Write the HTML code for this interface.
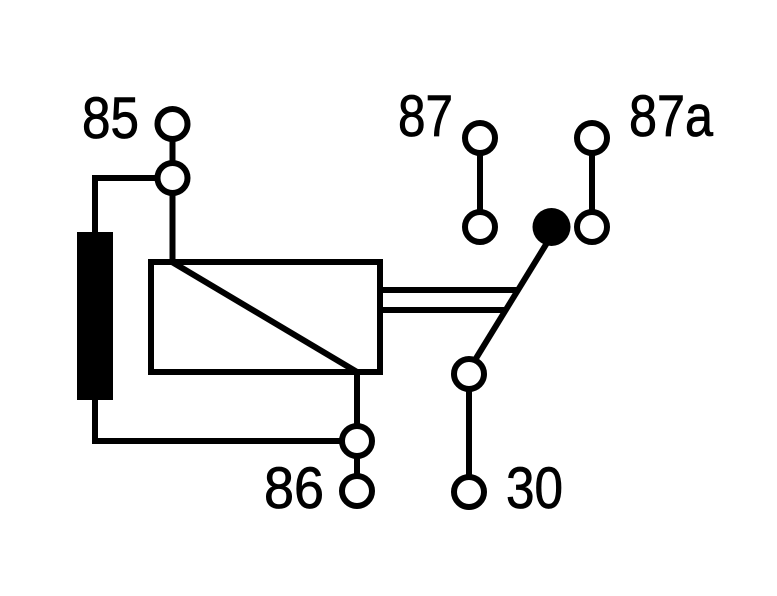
<!DOCTYPE html>
<html><head><meta charset="utf-8"><style>
html,body{margin:0;padding:0;background:#fff;}
svg{display:block;}
</style></head><body>
<svg width="777" height="596" viewBox="0 0 777 596" xmlns="http://www.w3.org/2000/svg">
<g stroke="#000" stroke-width="6" fill="none" stroke-linecap="butt">
  <line x1="172.5" y1="139" x2="172.5" y2="162"/>
  <line x1="172.5" y1="194" x2="172.5" y2="262"/>
  <polyline points="157,178 95,178 95,232"/>
  <polyline points="95,400 95,441 341,441"/>
  <rect x="151" y="262" width="229" height="110"/>
  <line x1="172" y1="262" x2="357" y2="372"/>
  <line x1="357" y1="372" x2="357" y2="425"/>
  <line x1="357" y1="457" x2="357" y2="475"/>
  <line x1="383" y1="290" x2="518" y2="290"/>
  <line x1="383" y1="310" x2="506" y2="310"/>
  <line x1="480" y1="154" x2="480" y2="211"/>
  <line x1="592" y1="154" x2="592" y2="211"/>
  <line x1="550" y1="238" x2="475" y2="360"/>
  <line x1="469" y1="389" x2="469" y2="476"/>
  <circle cx="172.5" cy="124" r="15" fill="#fff"/>
  <circle cx="172.5" cy="178" r="15" fill="#fff"/>
  <circle cx="357" cy="441" r="15" fill="#fff"/>
  <circle cx="357" cy="491" r="15" fill="#fff"/>
  <circle cx="480" cy="138" r="15" fill="#fff"/>
  <circle cx="480" cy="227" r="15" fill="#fff"/>
  <circle cx="592" cy="138" r="15" fill="#fff"/>
  <circle cx="592" cy="227" r="15" fill="#fff"/>
  <circle cx="469" cy="374" r="15" fill="#fff"/>
  <circle cx="469" cy="492" r="15" fill="#fff"/>
</g>
<rect x="77" y="232" width="36" height="168" fill="#000"/>
<circle cx="551.5" cy="227" r="19" fill="#000"/>
<g font-family="Liberation Sans, sans-serif" font-size="58" fill="#000" stroke="#000" stroke-width="0.8">
  <text x="82" y="138" textLength="57" lengthAdjust="spacingAndGlyphs">85</text>
  <text x="398" y="136" textLength="55" lengthAdjust="spacingAndGlyphs">87</text>
  <text x="629" y="136" textLength="84" lengthAdjust="spacingAndGlyphs">87a</text>
  <text x="264" y="508" textLength="60" lengthAdjust="spacingAndGlyphs">86</text>
  <text x="506" y="508" textLength="57" lengthAdjust="spacingAndGlyphs">30</text>
</g>
</svg>
</body></html>
